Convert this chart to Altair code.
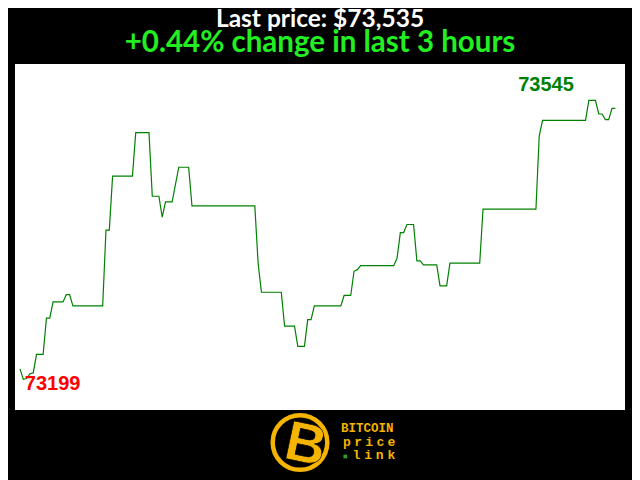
import altair as alt
import pandas as pd

# ---- data ----
minutes = [0, 1, 2, 3, 4, 5, 7, 8, 9, 10, 13, 14, 15, 16, 25, 26, 27, 28, 34, 35,
           39, 40, 42, 43, 44, 46, 48, 51, 52, 71, 72, 73, 79, 80, 83, 84, 86, 87, 88, 89,
           97, 98, 100, 101, 102, 103, 113, 114, 115, 116, 117, 119, 120, 121, 122, 126,
           127, 129, 130, 139, 140, 156, 157, 158, 171, 172, 174, 175, 176, 177, 178, 179, 180]
prices = [73212, 73199, 73200, 73206, 73207, 73230, 73230, 73275, 73275, 73295,
          73295, 73304, 73304, 73290, 73290, 73384, 73384, 73451, 73451, 73505,
          73505, 73426, 73426, 73400, 73419, 73419, 73462, 73462, 73414, 73414,
          73343, 73307, 73307, 73265, 73265, 73240, 73240, 73273, 73273, 73290,
          73290, 73303, 73303, 73333, 73335, 73340, 73340, 73349, 73381, 73381,
          73391, 73391, 73346, 73346, 73341, 73341, 73315, 73315, 73343, 73343,
          73410, 73410, 73501, 73520, 73520, 73545, 73545, 73528, 73528, 73521,
          73521, 73535, 73535]

title_text = "Last price: $73,535"
subtitle_text = "+0.44% change in last 3 hours"

logo_line1 = "BITCOIN"
logo_line2 = "price"
logo_line3 = "link"

df = pd.DataFrame({"minute": minutes, "price": prices})

i_max = prices.index(max(prices))
i_min = prices.index(min(prices))
df_max = pd.DataFrame({"minute": [minutes[i_max]], "price": [prices[i_max]], "label": [str(prices[i_max])]})
df_min = pd.DataFrame({"minute": [minutes[i_min]], "price": [prices[i_min]], "label": [str(prices[i_min])]})

W, H = 610, 346
xs = alt.Scale(domain=[-1.51, 182.93], nice=False, zero=False)
ys = alt.Scale(domain=[73161, 73590], nice=False, zero=False)

line = alt.Chart(df).mark_line(color="#008000", strokeWidth=1.2).encode(
    x=alt.X("minute:Q", scale=xs, axis=None),
    y=alt.Y("price:Q", scale=ys, axis=None),
)

max_lbl = alt.Chart(df_max).mark_text(
    color="#008000", font="Liberation Sans", fontWeight="bold", fontSize=20,
    align="right", baseline="alphabetic", dx=-15, dy=-9,
).encode(x=alt.X("minute:Q", scale=xs, axis=None), y=alt.Y("price:Q", scale=ys, axis=None), text="label:N")

min_lbl = alt.Chart(df_min).mark_text(
    color="#ff0000", font="Liberation Sans", fontWeight="bold", fontSize=20,
    align="left", baseline="alphabetic", dx=1.5, dy=11,
).encode(x=alt.X("minute:Q", scale=xs, axis=None), y=alt.Y("price:Q", scale=ys, axis=None), text="label:N")

# ---- header texts ----
head1 = alt.Chart(pd.DataFrame({"t": [title_text]})).mark_text(
    font="Lato", fontWeight="bold", fontSize=24.5, color="#ffffff",
    align="center", baseline="alphabetic"
).encode(x=alt.value(W / 2), y=alt.value(-37), text="t:N")

head2 = alt.Chart(pd.DataFrame({"t": [subtitle_text]})).mark_text(
    font="Lato", fontWeight="bold", fontSize=29.5, color="#22ee22",
    align="center", baseline="alphabetic"
).encode(x=alt.value(W / 2), y=alt.value(-12), text="t:N")

# ---- logo (decoration, positioned in pixels below the plot) ----
gold = "#f5b400"
ring = alt.Chart(pd.DataFrame({"px": [285], "py": [378.5]})).mark_point(
    shape="circle", filled=False, stroke=gold, strokeWidth=4.5, size=2980, opacity=1
).encode(x=alt.X("px:Q", scale=None), y=alt.Y("py:Q", scale=None))

bee = alt.Chart(pd.DataFrame({"px": [287], "py": [398], "t": ["B"]})).mark_text(
    font="Liberation Sans", fontWeight="bold", fontSize=56, color=gold, angle=12,
    align="center", baseline="alphabetic", stroke="#000000", strokeWidth=0.6
).encode(x=alt.X("px:Q", scale=None), y=alt.Y("py:Q", scale=None), text="t:N")

l1 = alt.Chart(pd.DataFrame({"px": [326], "py": [368], "t": [logo_line1]})).mark_text(
    font="Liberation Mono", fontWeight="bold", fontSize=12.5, color=gold,
    align="left", baseline="alphabetic"
).encode(x=alt.X("px:Q", scale=None), y=alt.Y("py:Q", scale=None), text="t:N")

c2 = list(logo_line2)
l2 = alt.Chart(pd.DataFrame({"px": [332 + 11.1 * i for i in range(len(c2))],
                             "py": [381.7] * len(c2), "t": c2})).mark_text(
    font="Liberation Mono", fontWeight="bold", fontSize=13, color=gold,
    align="center", baseline="alphabetic"
).encode(x=alt.X("px:Q", scale=None), y=alt.Y("py:Q", scale=None), text="t:N")

c3 = list(logo_line3)
l3 = alt.Chart(pd.DataFrame({"px": [341.5 + 11.6 * i for i in range(len(c3))],
                             "py": [395.3] * len(c3), "t": c3})).mark_text(
    font="Liberation Mono", fontWeight="bold", fontSize=13, color=gold,
    align="center", baseline="alphabetic"
).encode(x=alt.X("px:Q", scale=None), y=alt.Y("py:Q", scale=None), text="t:N")

dot = alt.Chart(pd.DataFrame({"px": [330.3], "py": [392.5]})).mark_square(
    color="#2f9e2f", size=14, opacity=1
).encode(x=alt.X("px:Q", scale=None), y=alt.Y("py:Q", scale=None))

chart = alt.layer(line, max_lbl, min_lbl, head1, head2, ring, bee, l1, l2, l3, dot).properties(
    width=W, height=H,
    background="#000000",
    autosize=alt.AutoSizeParams(type="none"),
    padding={"left": 7, "top": 56, "right": 7, "bottom": 70},
).configure_view(fill="#ffffff", strokeWidth=0)

chart.save("out.html", embed_options={"renderer": "svg", "actions": False})
